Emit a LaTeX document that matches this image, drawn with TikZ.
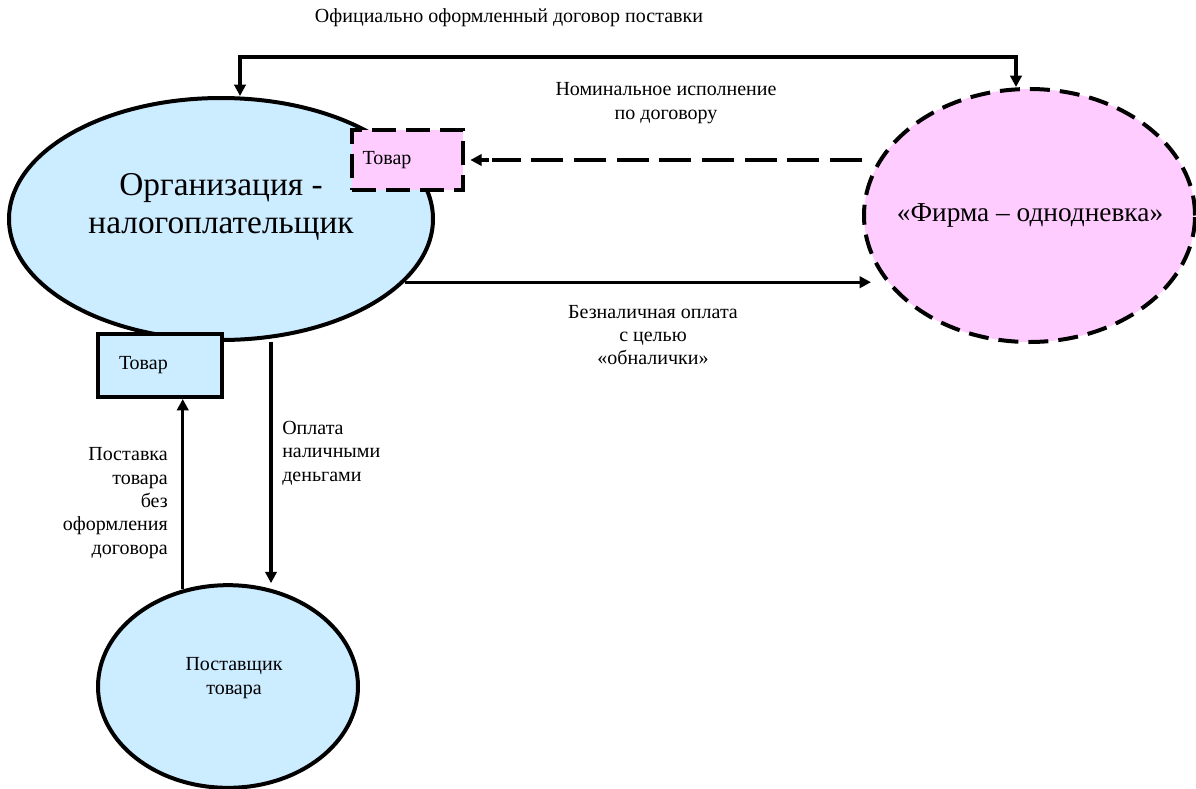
\documentclass[tikz,border=0pt]{standalone}
\usepackage{fontspec}
\setmainfont{Liberation Serif}
\usetikzlibrary{shapes.geometric,arrows.meta,calc}
\definecolor{lblue}{HTML}{CCECFF}
\definecolor{lpink}{HTML}{FFCCFF}
\newcommand{\smallfnt}{\fontsize{15}{17.5}\selectfont}
\newcommand{\bigfnt}{\fontsize{25}{28.5}\selectfont}
\newcommand{\firmfnt}{\fontsize{20.5}{24}\selectfont}
\tikzset{
  bluell/.style={ellipse, draw=black, line width=3pt, fill=lblue, inner sep=0pt, align=center},
  pinkell/.style={ellipse, draw=black, line width=3pt, fill=lpink, inner sep=0pt, align=center, dash pattern=on 15pt off 7.5pt},
  goodbox/.style={rectangle, draw=black, line width=3pt, inner ysep=0pt, align=left, font=\smallfnt},
  conn/.style={line width=2.5pt, -{Triangle[length=8.5pt,width=8.5pt]}},
  lbl/.style={font=\smallfnt, inner sep=0pt}
}
\begin{document}
\begin{tikzpicture}[x=0.75pt,y=-0.75pt]
\useasboundingbox (0,0) rectangle (1196,789);
% nodes
\node[bluell, minimum width=318pt, minimum height=181.5pt] (org) at (221,219) {};
\node[font=\bigfnt, align=center, inner sep=0pt] (orgt) at (221,207) {Организация -\\налогоплательщик};
\node[pinkell, minimum width=248.25pt, minimum height=189.75pt] (firm) at (1029.5,215.5) {};
\node[font=\firmfnt, inner sep=0pt] (firmt) at (1030,215) {«Фирма – однодневка»};
\node[bluell, minimum width=195pt, minimum height=152pt] (sup) at (228,686.5) {};
\node[lbl, align=center] (supt) at (234,678) {Поставщик\\товара};
\node[goodbox, fill=lpink, dash pattern=on 18pt off 7.5pt, minimum width=83.25pt, minimum height=45pt, inner xsep=8pt, text width=67.25pt] (tovP) at (407.5,160) {Товар\\[3pt]};
\node[goodbox, fill=lblue, minimum width=93pt, minimum height=47.25pt, inner xsep=15.75pt, text width=61.5pt] (tovB) at (160,365.5) {Товар\\[3pt]};
% labels
\node[lbl] (l1) at (509,18) {Официально оформленный договор поставки};
\node[lbl, align=center] (l2) at (666,103) {Номинальное исполнение\\по договору};
\node[lbl, align=center] (l3) at (653,335) {Безналичная оплата\\с целью\\«обналички»};
\node[lbl, align=left, anchor=west] (l4) at (282,453) {Оплата\\наличными\\деньгами};
\node[lbl, align=right, anchor=east] (l5) at (168,503) {Поставка\\товара\\без\\оформления\\договора};
% connectors
\coordinate (tl) at (240,57);
\coordinate (tr) at (1016,57);
\draw[line width=2.5pt, {Triangle[length=8.5pt,width=8.5pt]}-{Triangle[length=8.5pt,width=8.5pt]}]
  (org.north -| tl) -- (tl) -- (tr) -- (firm.north -| tr);
\draw[line width=2.5pt, dash pattern=on 24pt off 8pt, shorten >=20pt] (firm.west |- tovP.east) -- (tovP.east);
\draw[conn, shorten >=4pt] ($(tovP.east)+(24,0)$) -- (tovP.east);
\coordinate (bz) at ($(firm.west)+(9,0)$);
\draw[conn] (org.-19.2) -- (org.-19.2 -| bz);
\coordinate (dn) at (271,0);
\draw[conn] (org.south -| dn) -- (sup.north -| dn);
\draw[conn] (sup.115.8) -- (sup.115.8 |- tovB.south);
\end{tikzpicture}
\end{document}
